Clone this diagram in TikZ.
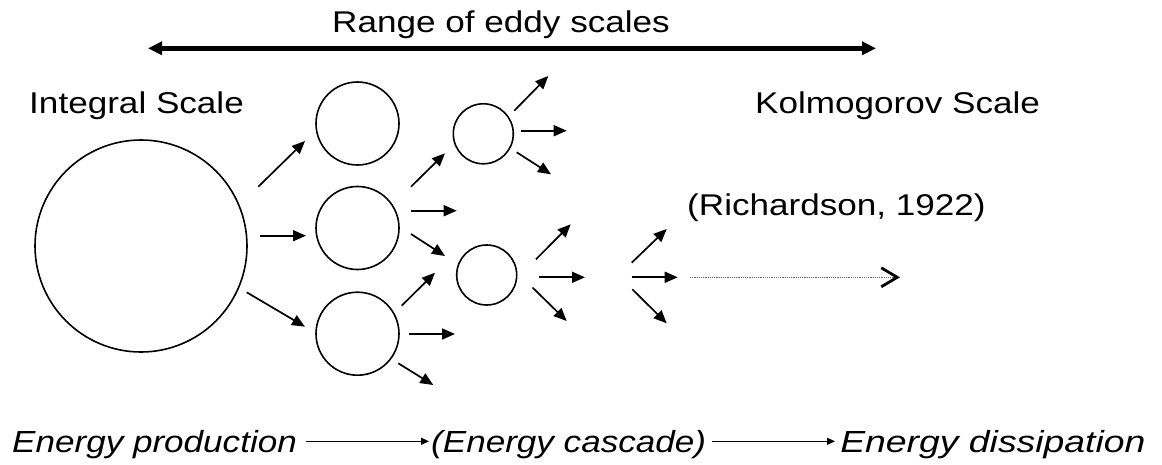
\documentclass[tikz,border=0pt]{standalone}
\usepackage{fontspec}
\setmainfont{Liberation Sans}
\usetikzlibrary{arrows.meta}
\begin{document}
\begin{tikzpicture}[x=1pt,y=-1pt,
  lbl/.style={inner sep=0pt,anchor=base west,xscale=1.17,font=\fontsize{30}{36}\selectfont},
  ilbl/.style={inner sep=0pt,anchor=base west,xscale=1.15,font=\fontsize{30.5}{36}\selectfont\itshape},
  eddy/.style={circle,draw,line width=1.6pt,inner sep=0pt},
  arr/.style={line width=1.7pt,-{Triangle[length=13pt,width=11pt]}},
  thinarr/.style={line width=1.2pt,-{Triangle[length=8pt,width=7pt]}}]
\useasboundingbox[fill=white] (0,0) rectangle (1162,465);

% title and range arrow
\node[lbl] (range) at (332,32.7) {Range of eddy scales};
\coordinate (rl) at (148,48.3);
\coordinate (rr) at (876,48.3);
\draw[line width=4.5pt,{Triangle[length=14pt,width=13pt]}-{Triangle[length=14pt,width=13pt]}] (rl) -- (rr);

\node[lbl] (integral) at (29,113.3) {Integral Scale};
\node[lbl] (kolmo) at (755,113.3) {Kolmogorov Scale};
\node[lbl] (rich) at (687,215) {(Richardson, 1922)};

% eddies
\node[eddy,minimum size=212pt] (big) at (141,246) {};
\node[eddy,minimum size=83pt] (m1) at (357.5,123.5) {};
\node[eddy,minimum size=83pt] (m2) at (357.5,228) {};
\node[eddy,minimum size=83pt] (m3) at (357.5,333.7) {};
\node[eddy,minimum size=60pt] (s1) at (483.3,133.8) {};
\node[eddy,minimum size=60pt] (s2) at (486.7,275) {};

% cascade arrows
\draw[arr] (258.3,186.7) -- (305,141);
\draw[arr] (260,235.7) -- (306,235.7);
\draw[arr] (246.7,292.3) -- (305,326.7);

\draw[arr] (411,186.7) -- (445,153.3);
\draw[arr] (411,210.7) -- (456.7,210.7);
\draw[arr] (411,234) -- (445,256);

\draw[arr] (401.7,305.7) -- (435,272.7);
\draw[arr] (409,334) -- (455,334);
\draw[arr] (398.3,363.3) -- (433.3,385);

\draw[arr] (514.3,110.7) -- (548.3,76);
\draw[arr] (520.7,130.7) -- (566.7,130.7);
\draw[arr] (516.7,152.3) -- (551,174.3);

\draw[arr] (536,259.3) -- (570.7,224.3);
\draw[arr] (538.5,277.3) -- (585,277.3);
\draw[arr] (532.5,287.5) -- (566.7,321);

\draw[arr] (631.7,262.7) -- (666.7,229);
\draw[arr] (631.7,277.3) -- (677.7,277.3);
\draw[arr] (632.3,289.3) -- (666.7,323.3);

% dissipation arrow
\coordinate (ds) at (690,277.3);
\coordinate (de) at (900,277.3);
\draw[densely dotted,line width=1.2pt,black!60,-{Straight Barb[length=16pt,width=19pt,line width=2.8pt,color=black]}] (ds) -- (de);

% bottom line
\node[ilbl] (prod) at (12,452.3) {Energy production};
\node[ilbl] (casc) at (431,452.3) {(Energy cascade)};
\node[ilbl,xscale=1.065] (diss) at (840,452.3) {Energy dissipation};
\draw[thinarr] ([xshift=9pt,yshift=11pt]prod.base east) -- ([xshift=-2pt,yshift=11pt]casc.base west);
\draw[thinarr] ([xshift=6pt,yshift=11pt]casc.base east) -- ([xshift=-5pt,yshift=11pt]diss.base west);
\end{tikzpicture}
\end{document}
